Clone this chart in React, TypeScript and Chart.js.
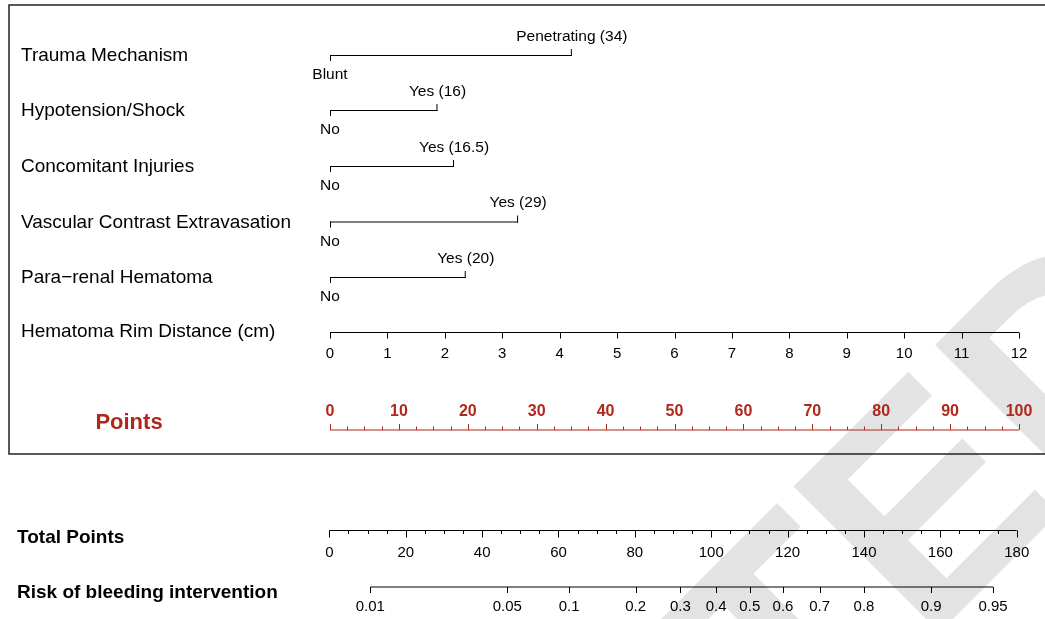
import React, { useEffect, useRef } from 'react';
import { Chart, registerables } from 'chart.js';

Chart.register(...registerables);

// ---------- data ----------
const predictorNames = [
  'Trauma Mechanism',
  'Hypotension/Shock',
  'Concomitant Injuries',
  'Vascular Contrast Extravasation',
  'Para\u2212renal Hematoma',
];
const baseLevelLabels = ['Blunt', 'No', 'No', 'No', 'No'];
const highLevelLabels = ['Penetrating (34)', 'Yes (16)', 'Yes (16.5)', 'Yes (29)', 'Yes (20)'];
// points reached by the second level
const highLevelPoints = [35.1, 15.6, 18.0, 27.3, 19.7];

const rimLabel = 'Hematoma Rim Distance (cm)';
const rimTicks = [0, 1, 2, 3, 4, 5, 6, 7, 8, 9, 10, 11, 12];

const pointsTicks = [0, 10, 20, 30, 40, 50, 60, 70, 80, 90, 100];
const pointsMinorStep = 2.5;

const totalTicks = [0, 20, 40, 60, 80, 100, 120, 140, 160, 180];
const totalMinorStep = 5;

const riskLabels = ['0.01', '0.05', '0.1', '0.2', '0.3', '0.4', '0.5', '0.6', '0.7', '0.8', '0.9', '0.95'];
// total points at which each risk value sits
const riskTotalPoints = [10.7, 46.6, 62.8, 80.2, 91.9, 101.3, 110.1, 118.8, 128.4, 140.0, 157.6, 173.8];

// ---------- layout ----------
const W = 1045;
const H = 619;
const rowY = [55, 110, 166, 221.5, 277];
const rimY = 332.5;
const pointsY = 430;
const totalY = 530.5;
const riskY = 587;
const RED = '#B0271B';
const FONT = '"Liberation Sans", Arial, Helvetica, sans-serif';

const nomogramPlugin = {
  id: 'nomogram',
  beforeDraw(chart: any) {
    const ctx = chart.ctx as CanvasRenderingContext2D;
    ctx.save();
    ctx.fillStyle = '#ffffff';
    ctx.fillRect(0, 0, W, H);
    // watermark
    ctx.translate(1220, 352);
    ctx.rotate(-Math.PI / 4);
    ctx.fillStyle = '#e3e3e3';
    ctx.font = `bold 300px ${FONT}`;
    ctx.textAlign = 'right';
    ctx.textBaseline = 'alphabetic';
    ctx.fillText('ACCEPTED', 0, 0);
    ctx.restore();
  },
  afterDraw(chart: any) {
    const ctx = chart.ctx as CanvasRenderingContext2D;
    const xs = chart.scales.x;
    const xr = chart.scales.xr;
    const xt = chart.scales.xt;
    const px = (v: number) => xs.getPixelForValue(v);
    const pr = (v: number) => xr.getPixelForValue(v);
    const pt = (v: number) => xt.getPixelForValue(v);

    ctx.save();
    // frame
    ctx.strokeStyle = '#222';
    ctx.lineWidth = 1.5;
    ctx.strokeRect(9, 5, 1100, 449);

    const line = (x1: number, y1: number, x2: number, y2: number) => {
      ctx.beginPath();
      ctx.moveTo(x1, y1);
      ctx.lineTo(x2, y2);
      ctx.stroke();
    };
    const text = (s: string, x: number, y: number, font: string, align: CanvasTextAlign, color = '#000') => {
      ctx.font = font;
      ctx.fillStyle = color;
      ctx.textAlign = align;
      ctx.textBaseline = 'middle';
      ctx.fillText(s, x, y);
    };

    ctx.lineWidth = 1;
    ctx.strokeStyle = '#000';

    // predictor rows
    predictorNames.forEach((name, i) => {
      const y = rowY[i];
      text(name, 21, y + 1, `19px ${FONT}`, 'left');
      const x0 = px(0);
      const x1 = px(highLevelPoints[i]);
      line(x0, y + 0.5, x1, y + 0.5);
      line(x0 + 0.5, y, x0 + 0.5, y + 6);
      line(x1 - 0.5, y + 1, x1 - 0.5, y - 6);
      text(highLevelLabels[i], x1, y - 18.5, `15.5px ${FONT}`, 'center');
      text(baseLevelLabels[i], x0, y + 20, `15.5px ${FONT}`, 'center');
    });

    // rim distance axis
    text(rimLabel, 21, rimY - 1, `19px ${FONT}`, 'left');
    line(pr(rimTicks[0]), rimY, pr(rimTicks[rimTicks.length - 1]), rimY);
    rimTicks.forEach((t) => {
      const x = Math.round(pr(t)) + 0.5;
      line(x, rimY, x, rimY + 6);
      text(String(t), pr(t), rimY + 21, `15px ${FONT}`, 'center');
    });

    // points axis
    ctx.strokeStyle = RED;
    text('Points', 129, 423, `bold 22px ${FONT}`, 'center', RED);
    line(px(0), pointsY, px(100), pointsY);
    for (let v = 0; v <= 100 + 1e-9; v += pointsMinorStep) {
      const x = Math.round(px(v)) + 0.5;
      const major = Math.abs(v % 10) < 1e-6;
      line(x, pointsY, x, pointsY - (major ? 6 : 3.5));
    }
    pointsTicks.forEach((t) => {
      text(String(t), px(t), 411.5, `bold 16px ${FONT}`, 'center', RED);
    });

    // total points axis
    ctx.strokeStyle = '#000';
    text('Total Points', 17, 538, `bold 19px ${FONT}`, 'left');
    line(pt(0), totalY, pt(180), totalY);
    for (let v = 0; v <= 180 + 1e-9; v += totalMinorStep) {
      const x = Math.round(pt(v)) + 0.5;
      const major = Math.abs(v % 20) < 1e-6;
      line(x, totalY, x, totalY + (major ? 7 : 3.5));
    }
    totalTicks.forEach((t) => {
      text(String(t), pt(t), totalY + 22, `15px ${FONT}`, 'center');
    });

    // risk axis
    text('Risk of bleeding intervention', 17, 593, `bold 19px ${FONT}`, 'left');
    line(pt(riskTotalPoints[0]), riskY, pt(riskTotalPoints[riskTotalPoints.length - 1]), riskY);
    riskTotalPoints.forEach((tp, i) => {
      const x = Math.round(pt(tp)) + 0.5;
      line(x, riskY, x, riskY + 6);
      text(riskLabels[i], pt(tp), riskY + 20, `15px ${FONT}`, 'center');
    });

    ctx.restore();
  },
};

export default function App() {
  const ref = useRef<HTMLCanvasElement | null>(null);
  useEffect(() => {
    document.body.style.margin = '0';
    const canvas = ref.current;
    if (!canvas) return;
    const chart = new Chart(canvas, {
      type: 'scatter',
      data: { datasets: [] },
      options: {
        animation: false,
        responsive: false,
        devicePixelRatio: 1,
        layout: { padding: { left: 330, right: 26, top: 0, bottom: 0 } },
        plugins: { legend: { display: false }, tooltip: { enabled: false } },
        scales: {
          x: { type: 'linear', min: 0, max: 100, display: false },
          xr: { type: 'linear', axis: 'x', min: 0, max: 12, display: false },
          xt: { type: 'linear', axis: 'x', min: 0.16, max: 180.6, display: false },
          y: { type: 'linear', min: 0, max: H, reverse: true, display: false },
        },
      },
      plugins: [nomogramPlugin],
    } as any);
    return () => chart.destroy();
  }, []);
  return (
    <div style={{ width: W, height: H, position: 'relative', background: '#fff' }}>
      <canvas ref={ref} width={W} height={H} style={{ display: 'block', width: W, height: H }} />
    </div>
  );
}
